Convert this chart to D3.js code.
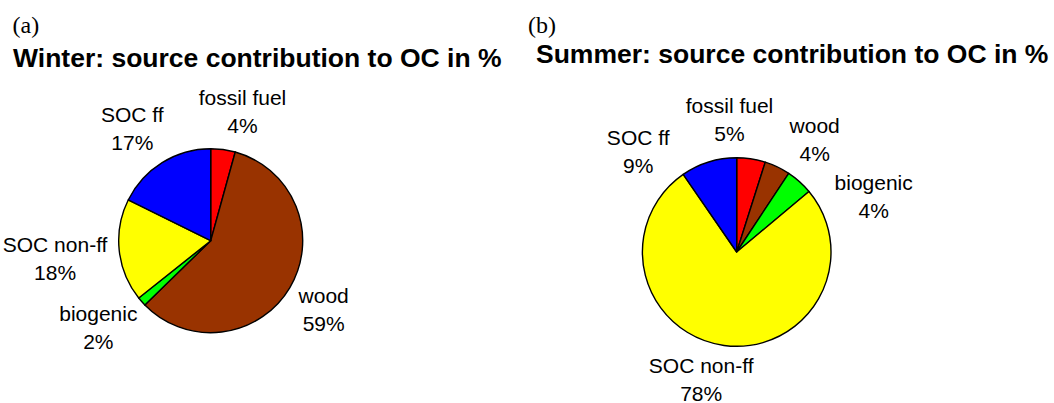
<!DOCTYPE html>
<html>
<head>
<meta charset="utf-8">
<script src="https://cdn.jsdelivr.net/npm/d3@7/dist/d3.min.js"></script>
<style>
  body { margin: 0; background: #fff; }
  text { font-family: "Liberation Sans", Arial, sans-serif; fill: #000; }
</style>
</head>
<body>
<svg id="chart" width="1054" height="403"></svg>
<script>
// sources, clockwise from 12 o'clock
const sources = ["fossil fuel", "wood", "biogenic", "SOC non-ff", "SOC ff"];
const sourceColors = ["#ff0000", "#993300", "#00ff00", "#ffff00", "#0000ff"];

// shares (%), and the printed labels
const winterShare = [4.3, 58.4, 1.6, 18.0, 17.7];
const winterLabel = ["4%", "59%", "2%", "18%", "17%"];
const summerShare = [4.9, 4.4, 4.6, 76.5, 9.6];
const summerLabel = ["5%", "4%", "4%", "78%", "9%"];

const panels = [
  {tag: "(a)", title: "Winter: source contribution to OC in %", share: winterShare, label: winterLabel,
   tagX: 12.5, titleX: 13, titleY: 66.5, cx: 210.7, cy: 240.7, r: 92},
  {tag: "(b)", title: "Summer: source contribution to OC in %", share: summerShare, label: summerLabel,
   tagX: 528, titleX: 536, titleY: 62.7, cx: 736.7, cy: 252, r: 94.3}
];

const svg = d3.select("#chart");
const lineGap = 28;   // distance between name and percentage baselines
const labelGap = 12;  // space between pie rim and label anchor
const padX = 16, padY = 8;

// pulls the label box towards its corner, like the spreadsheet does
const bend = v => Math.sign(v) * Math.pow(Math.abs(v), 0.45);

panels.forEach(p => {
  svg.append("text")
    .attr("x", p.tagX).attr("y", 33)
    .style("font-family", "'Liberation Serif', 'Times New Roman', serif")
    .style("font-size", "24px")
    .text(p.tag);

  svg.append("text")
    .attr("x", p.titleX).attr("y", p.titleY)
    .style("font-size", "26.5px")
    .style("font-weight", "bold")
    .text(p.title);

  const pie = d3.pie().sort(null).value(d => d.v);
  const data = pie(sources.map((s, i) => ({name: s, v: p.share[i], pct: p.label[i], color: sourceColors[i]})));
  const arc = d3.arc().innerRadius(0).outerRadius(p.r);

  const g = svg.append("g").attr("transform", `translate(${p.cx},${p.cy})`);

  g.selectAll("path.slice")
    .data(data)
    .enter().append("path")
    .attr("class", "slice")
    .attr("d", arc)
    .attr("fill", d => d.data.color)
    .attr("stroke", "#000")
    .attr("stroke-width", 1.4)
    .attr("stroke-linejoin", "round");

  // label groups: name on first line, percentage on second
  const labels = g.selectAll("g.lab")
    .data(data)
    .enter().append("g")
    .attr("class", "lab");

  labels.append("text")
    .attr("class", "nm")
    .attr("text-anchor", "middle")
    .style("font-size", "21px")
    .text(d => d.data.name);
  labels.append("text")
    .attr("class", "pc")
    .attr("text-anchor", "middle")
    .style("font-size", "21px")
    .text(d => d.data.pct);

  // box size of each label
  const boxes = data.map((d, i) => {
    const node = labels.nodes()[i];
    const w = Math.max(node.querySelector(".nm").getComputedTextLength(),
                       node.querySelector(".pc").getComputedTextLength());
    return {w: w, h: 15.5 + lineGap + 4.5, a: (d.startAngle + d.endAngle) / 2};
  });

  const R = p.r + labelGap;
  const place = b => {
    const s = Math.sin(b.a), c = -Math.cos(b.a);
    return [R * s + b.w / 2 * bend(s), R * c + b.h / 2 * bend(c)];
  };
  const overlap = (b1, b2) => {
    const [x1, y1] = place(b1), [x2, y2] = place(b2);
    return Math.abs(x1 - x2) < (b1.w + b2.w) / 2 + padX && Math.abs(y1 - y2) < (b1.h + b2.h) / 2 + padY;
  };

  // spread crowded labels apart around the pie
  const step = Math.PI / 360;
  for (let it = 0; it < 400; it++) {
    let moved = false;
    for (let k = 0; k < boxes.length; k++) {
      const b1 = boxes[k], b2 = boxes[(k + 1) % boxes.length];
      if (overlap(b1, b2)) {
        b1.a -= step;
        b2.a += step;
        moved = true;
      }
    }
    if (!moved) break;
  }

  labels.each(function(d, i) {
    const [x, y] = place(boxes[i]);
    const sel = d3.select(this);
    sel.select(".nm").attr("x", x).attr("y", y - 8.3);
    sel.select(".pc").attr("x", x).attr("y", y - 8.3 + lineGap);
  });
});
</script>
</body>
</html>
